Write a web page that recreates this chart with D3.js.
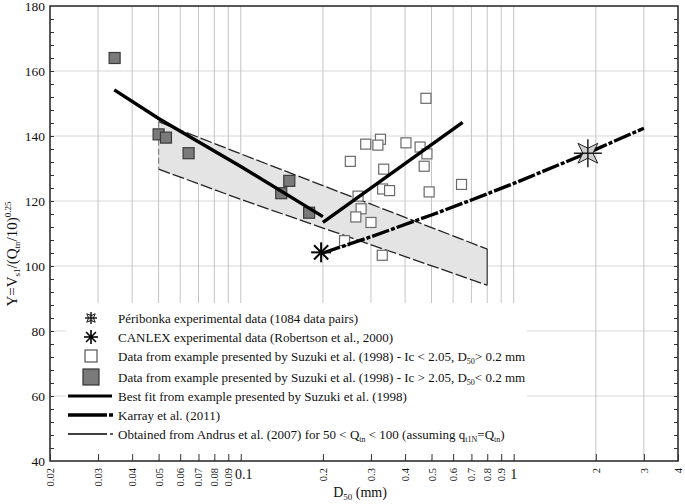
<!DOCTYPE html>
<html>
<head>
<meta charset="utf-8">
<script src="https://cdn.jsdelivr.net/npm/d3@7"></script>
<style>
  body { margin: 0; background: #fff; }
  svg text { font-family: "Liberation Serif", "DejaVu Serif", serif; fill: #111; }
</style>
</head>
<body>
<svg id="chart"></svg>
<script>
// ---- data (D50 in mm, Y) ----
let peribonka = [[1.87, 134.7]];
let canlex = [[0.197, 104.2]];

let suzukiOpen = [
  [0.477, 151.6], [0.325, 139.0], [0.287, 137.5], [0.318, 137.2], [0.403, 137.9],
  [0.454, 136.6], [0.481, 134.5], [0.252, 132.2], [0.470, 130.7], [0.334, 129.8],
  [0.644, 125.1], [0.331, 123.7], [0.351, 123.2], [0.490, 122.8], [0.269, 121.5],
  [0.276, 117.6], [0.264, 115.1], [0.300, 113.4], [0.240, 107.8], [0.330, 103.3]
];
let suzukiGrey = [
  [0.0345, 164.0], [0.050, 140.5], [0.0532, 139.5], [0.0644, 134.7],
  [0.1506, 126.2], [0.1407, 122.4], [0.178, 116.4]
];

let fitLeft = [[0.0344, 154.2], [0.05, 145.4], [0.1, 130.6], [0.2, 115.2]];
let fitRight = [[0.2, 113.4], [0.65, 144.2]];

let karray = [[0.2, 104.0], [0.3, 109.0], [0.5, 115.7], [0.7, 120.3], [1.0, 125.4],
              [1.5, 131.5], [2.0, 135.9], [3.0, 142.4]];

let andrusUpper = [[0.05, 144.4], [0.1, 134.5], [0.8, 105.2]];
let andrusLower = [[0.05, 129.8], [0.1, 120.5], [0.8, 94.1]];

let xTicks = [0.02, 0.03, 0.04, 0.05, 0.06, 0.07, 0.08, 0.09, 0.1, 0.2, 0.3, 0.4, 0.5, 0.6, 0.7, 0.8, 0.9, 1, 2, 3, 4];
let xGrid = [0.03, 0.04, 0.05, 0.06, 0.07, 0.08, 0.09, 0.1, 0.2, 0.3, 0.4, 0.5, 0.6, 0.7, 0.8, 0.9, 1, 2, 3];
let yTicks = [40, 60, 80, 100, 120, 140, 160, 180];

let legendItems = [
  {type: "star", text: "Péribonka experimental data (1084 data pairs)"},
  {type: "asterisk", text: "CANLEX experimental data (Robertson et al., 2000)"},
  {type: "open", text: ["Data from example presented by Suzuki et al. (1998) - Ic < 2.05, D", "50", "> 0.2 mm"]},
  {type: "grey", text: ["Data from example presented by Suzuki et al. (1998) - Ic > 2.05, D", "50", "< 0.2 mm"]},
  {type: "fit", text: "Best fit from example presented by Suzuki et al. (1998)"},
  {type: "karray", text: "Karray et al. (2011)"},
  {type: "andrus", text: ["Obtained from Andrus et al. (2007) for 50 < Q", "tn", " < 100 (assuming q", "t1N", "=Q", "tn", ")"]}
];

const W = 685, H = 504;
const svg = d3.select("#chart").attr("width", W).attr("height", H)
  .attr("font-family", "Liberation Serif");

let x = d3.scaleLog().domain([0.02, 4]).range([50, 678]);
let y = d3.scaleLinear().domain([40, 180]).range([461, 6]);

let line = d3.line().x(d => x(d[0])).y(d => y(d[1]));

// grid
svg.append("g").selectAll("line").data(yTicks.slice(1, -1)).enter().append("line")
  .attr("x1", x(0.02)).attr("x2", x(4)).attr("y1", d => y(d)).attr("y2", d => y(d))
  .attr("stroke", "#d8d8d8").attr("stroke-width", 1);
svg.append("g").selectAll("line").data(xGrid).enter().append("line")
  .attr("x1", d => x(d)).attr("x2", d => x(d)).attr("y1", y(40)).attr("y2", y(180))
  .attr("stroke", "#c4c4c4").attr("stroke-width", 1);

// Andrus band
let band = andrusUpper.concat(andrusLower.slice().reverse());
svg.append("path")
  .attr("d", line(band) + "Z")
  .attr("fill", "#e4e4e4").attr("stroke", "none");
svg.append("path").attr("d", line(andrusUpper))
  .attr("fill", "none").attr("stroke", "#222").attr("stroke-width", 1.3).attr("stroke-dasharray", "12,3");
svg.append("path").attr("d", line(andrusLower))
  .attr("fill", "none").attr("stroke", "#222").attr("stroke-width", 1.3).attr("stroke-dasharray", "12,3");
svg.append("path").attr("d", line([andrusUpper[0], andrusLower[0]]))
  .attr("fill", "none").attr("stroke", "#888").attr("stroke-width", 1.3).attr("stroke-dasharray", "6,3");
let ur = andrusUpper[andrusUpper.length - 1], lr = andrusLower[andrusLower.length - 1];
svg.append("path").attr("d", line([ur, lr]))
  .attr("fill", "none").attr("stroke", "#555").attr("stroke-width", 1.5);

// squares
function square(g, data, s, fill, stroke) {
  g.selectAll("rect").data(data).enter().append("rect")
    .attr("x", d => x(d[0]) - s / 2).attr("y", d => y(d[1]) - s / 2)
    .attr("width", s).attr("height", s)
    .attr("fill", fill).attr("stroke", stroke).attr("stroke-width", 1.2);
}
square(svg.append("g"), suzukiGrey, 11, "#7a7a7a", "#3a3a3a");
square(svg.append("g"), suzukiOpen, 10, "#fff", "#6a6a6a");

// lines
svg.append("path").attr("d", line(fitLeft)).attr("fill", "none").attr("stroke", "#000").attr("stroke-width", 3.4);
svg.append("path").attr("d", line(fitRight)).attr("fill", "none").attr("stroke", "#000").attr("stroke-width", 3.4);
svg.append("path").attr("d", line(karray)).attr("fill", "none").attr("stroke", "#000")
  .attr("stroke-width", 3.4).attr("stroke-dasharray", "18,2,4,2");

// markers
function asterisk(g, cx, cy, r, w) {
  for (let a = 0; a < 180; a += 45) {
    let rad = a * Math.PI / 180;
    g.append("line")
      .attr("x1", cx - r * Math.cos(rad)).attr("y1", cy - r * Math.sin(rad))
      .attr("x2", cx + r * Math.cos(rad)).attr("y2", cy + r * Math.sin(rad))
      .attr("stroke", "#000").attr("stroke-width", w);
  }
}
function star(g, cx, cy, R, r, cross) {
  let pts = [];
  for (let i = 0; i < 8; i++) {
    let a = (45 + i * 45) * Math.PI / 180;
    let rr = (i % 2 === 0) ? R : r;
    pts.push([cx + rr * Math.cos(a), cy + rr * Math.sin(a)]);
  }
  g.append("polygon").attr("points", pts.map(p => p.join(",")).join(" "))
    .attr("fill", "#cfcfcf").attr("stroke", "#222").attr("stroke-width", 1);
  g.append("line").attr("x1", cx - cross).attr("x2", cx + cross).attr("y1", cy).attr("y2", cy)
    .attr("stroke", "#111").attr("stroke-width", 1.4);
  g.append("line").attr("x1", cx).attr("x2", cx).attr("y1", cy - cross).attr("y2", cy + cross)
    .attr("stroke", "#111").attr("stroke-width", 1.4);
}
canlex.forEach(d => asterisk(svg.append("g"), x(d[0]), y(d[1]), 10, 2));
peribonka.forEach(d => star(svg.append("g"), x(d[0]), y(d[1]), 14, 5, 14));

// legend
let lg = svg.append("g");
lg.append("rect").attr("x", 66).attr("y", 303).attr("width", 461).attr("height", 156).attr("fill", "#fff");
let ly = [318, 337, 356, 377, 396, 415, 434];
legendItems.forEach((it, i) => {
  let yy = ly[i];
  if (it.type === "star") {
    star(lg, 91, yy, 6, 2.5, 6);
  } else if (it.type === "asterisk") {
    asterisk(lg, 91, yy, 7, 1.6);
    lg.append("circle").attr("cx", 91).attr("cy", yy).attr("r", 2).attr("fill", "#000");
  } else if (it.type === "open") {
    lg.append("rect").attr("x", 85).attr("y", yy - 6).attr("width", 12).attr("height", 12)
      .attr("fill", "#fff").attr("stroke", "#555").attr("stroke-width", 1.2);
  } else if (it.type === "grey") {
    lg.append("rect").attr("x", 83).attr("y", yy - 8).attr("width", 16).attr("height", 16)
      .attr("fill", "#7a7a7a").attr("stroke", "#333").attr("stroke-width", 1.2);
  } else if (it.type === "fit") {
    lg.append("line").attr("x1", 68).attr("x2", 112).attr("y1", yy).attr("y2", yy)
      .attr("stroke", "#000").attr("stroke-width", 3.2);
  } else if (it.type === "karray") {
    lg.append("line").attr("x1", 68).attr("x2", 107).attr("y1", yy).attr("y2", yy)
      .attr("stroke", "#000").attr("stroke-width", 3.5);
    lg.append("line").attr("x1", 109).attr("x2", 113).attr("y1", yy).attr("y2", yy)
      .attr("stroke", "#000").attr("stroke-width", 3.5);
  } else if (it.type === "andrus") {
    lg.append("line").attr("x1", 68).attr("x2", 107).attr("y1", yy).attr("y2", yy)
      .attr("stroke", "#000").attr("stroke-width", 1.3);
    lg.append("line").attr("x1", 110).attr("x2", 113).attr("y1", yy).attr("y2", yy)
      .attr("stroke", "#000").attr("stroke-width", 1.3);
  }
  let t = lg.append("text").attr("x", 118).attr("y", yy + 4.5).attr("font-size", 13);
  if (typeof it.text === "string") {
    t.text(it.text);
  } else {
    it.text.forEach((s, k) => {
      let ts = t.append("tspan").text(s);
      if (k % 2 === 1) ts.attr("font-size", 8).attr("dy", 3);
      else if (k > 0) ts.attr("dy", -3);
    });
  }
});

// frame
svg.append("rect").attr("x", x(0.02)).attr("y", y(180)).attr("width", x(4) - x(0.02)).attr("height", y(40) - y(180))
  .attr("fill", "none").attr("stroke", "#222").attr("stroke-width", 1.5);

// y axis: inward ticks on both sides, minor every 4
let yMinor = d3.range(44, 180, 4);
let yl = d3.axisLeft(y).tickValues(yMinor).tickSize(-4).tickFormat("");
svg.append("g").attr("transform", `translate(${x(0.02)},0)`).call(yl)
  .call(g => g.select(".domain").remove());
let yr = d3.axisRight(y).tickValues(yMinor).tickSize(-4).tickFormat("");
svg.append("g").attr("transform", `translate(${x(4)},0)`).call(yr)
  .call(g => g.select(".domain").remove());
svg.selectAll(".tick line").attr("stroke", "#333");

let yAx = d3.axisLeft(y).tickValues(yTicks).tickSize(0).tickPadding(5);
svg.append("g").attr("transform", `translate(${x(0.02)},0)`).call(yAx)
  .call(g => g.select(".domain").remove())
  .call(g => g.selectAll("text").attr("font-size", 13.5).attr("font-family", "Liberation Serif").attr("fill", "#111"));

// x axis: inward ticks, rotated labels except 0.1 and 1
let xAx = d3.axisBottom(x).tickValues(xTicks).tickSize(-7).tickFormat("");
svg.append("g").attr("transform", `translate(0,${y(40)})`).call(xAx)
  .call(g => g.select(".domain").remove())
  .call(g => g.selectAll("line").attr("stroke", "#333"));

let xl = svg.append("g");
xTicks.forEach(v => {
  if (v === 0.1 || v === 1) {
    xl.append("text").attr("x", x(v) + (v === 0.1 ? 3 : 0)).attr("y", 479).attr("text-anchor", "middle")
      .attr("font-size", 14).text(String(v));
  } else {
    xl.append("text").attr("transform", `translate(${x(v) + 4},468) rotate(-90)`)
      .attr("text-anchor", "end").attr("font-size", 10.5).text(String(v));
  }
});

// axis titles
let xt = svg.append("text").attr("x", 360).attr("y", 497).attr("text-anchor", "middle").attr("font-size", 14);
xt.append("tspan").text("D");
xt.append("tspan").text("50").attr("font-size", 9).attr("dy", 3);
xt.append("tspan").text(" (mm)").attr("dy", -3);

let yt = svg.append("text").attr("transform", "translate(17,254) rotate(-90)").attr("text-anchor", "middle").attr("font-size", 15);
yt.append("tspan").text("Y=V");
yt.append("tspan").text("s1").attr("font-size", 9).attr("dy", 3);
yt.append("tspan").text("/(Q").attr("dy", -3);
yt.append("tspan").text("tn").attr("font-size", 9).attr("dy", 3);
yt.append("tspan").text("/10)").attr("dy", -3);
yt.append("tspan").text("0.25").attr("font-size", 9).attr("dy", -6);
</script>
</body>
</html>
